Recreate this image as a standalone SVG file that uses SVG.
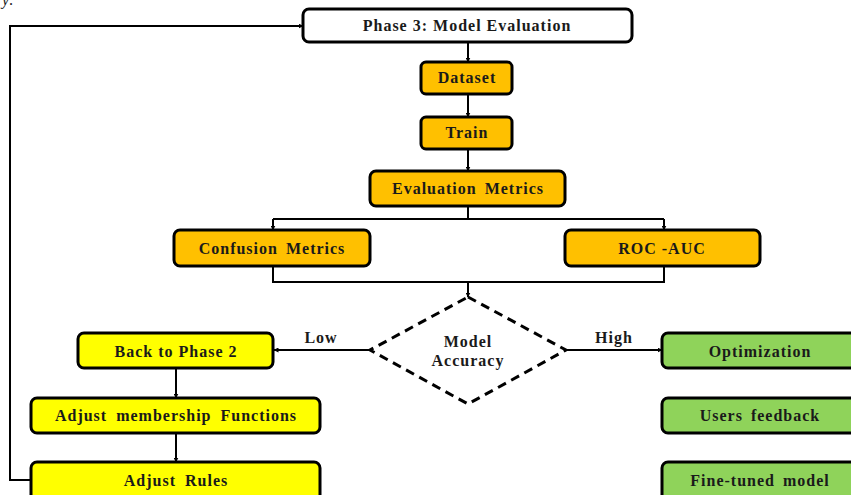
<svg xmlns="http://www.w3.org/2000/svg" width="851" height="495" viewBox="0 0 851 495">
<defs>
<marker id="ah" viewBox="0 0 10 10" refX="9" refY="5" markerWidth="5" markerHeight="5" orient="auto" markerUnits="userSpaceOnUse">
<path d="M0,0 L10,5 L0,10 z" fill="#000"/>
</marker>
<style>
.box{stroke:#000;stroke-width:3}
.w{fill:#fff}.o{fill:#FFC000}.y{fill:#FFFF00}.g{fill:#8FD35A}
text{font-family:"Liberation Serif","Times New Roman",serif;font-weight:bold;font-size:16px;letter-spacing:1px;fill:#1a1a1a;text-anchor:middle}
.c{fill:none;stroke:#000;stroke-width:2}
.a{marker-end:url(#ah)}
</style>
</defs>
<rect width="851" height="495" fill="#fff"/>
<text x="2" y="5" style="font-style:italic;font-weight:normal;text-anchor:start;font-size:16px;letter-spacing:0">y:</text>
<g id="connectors">
<path class="c a" d="M468,42 V62"/>
<path class="c a" d="M468,94 V117"/>
<path class="c a" d="M468,149 V171"/>
<path class="c" d="M468,206 V219 M273,219 H664"/>
<path class="c a" d="M273,219 V230"/>
<path class="c a" d="M664,219 V230"/>
<path class="c" d="M273,266 V282 H664 V266"/>
<path class="c a" d="M468,282 V297"/>
<path class="c a" d="M370,350 H274"/>
<path class="c a" d="M566,350 H662"/>
<path class="c a" d="M176,368 V398"/>
<path class="c a" d="M176,433 V462"/>
<path class="c a" d="M31,480 H10 V26 H303"/>
<text x="321" y="343">Low</text>
<text x="614" y="343">High</text>
</g>
<g id="phase3"><rect class="box w" x="303" y="9" width="329" height="33" rx="6"/><text x="467" y="31">Phase 3: Model Evaluation</text></g>
<g id="dataset"><rect class="box o" x="421" y="62" width="91" height="32" rx="5"/><text x="467" y="83">Dataset</text></g>
<g id="train"><rect class="box o" x="421" y="117" width="91" height="32" rx="5"/><text x="467" y="138">Train</text></g>
<g id="evalmetrics"><rect class="box o" x="370" y="171" width="195" height="35" rx="6"/><text x="468" y="194" word-spacing="3">Evaluation Metrics</text></g>
<g id="confusion"><rect class="box o" x="174" y="230" width="196" height="36" rx="6"/><text x="272" y="254" word-spacing="3">Confusion Metrics</text></g>
<g id="rocauc"><rect class="box o" x="565" y="230" width="195" height="36" rx="6"/><text x="662" y="254">ROC -AUC</text></g>
<g id="accuracy"><polygon points="468,297 566,350 468,404 370,350" fill="#fff" stroke="#000" stroke-width="3" stroke-dasharray="9,6"/><text x="468" y="347">Model</text><text x="468" y="366">Accuracy</text></g>
<g id="backphase2"><rect class="box y" x="78" y="333" width="195" height="35" rx="6"/><text x="176" y="357">Back to Phase 2</text></g>
<g id="adjmf"><rect class="box y" x="31" y="398" width="289" height="35" rx="6"/><text x="176" y="421" word-spacing="4">Adjust membership Functions</text></g>
<g id="adjrules"><rect class="box y" x="31" y="462" width="289" height="40" rx="6"/><text x="176" y="486" word-spacing="4">Adjust Rules</text></g>
<g id="optimization"><rect class="box g" x="662" y="333" width="198" height="35" rx="6"/><text x="760" y="357">Optimization</text></g>
<g id="feedback"><rect class="box g" x="662" y="398" width="198" height="35" rx="6"/><text x="760" y="421" word-spacing="3">Users feedback</text></g>
<g id="finetuned"><rect class="box g" x="662" y="462" width="198" height="40" rx="6"/><text x="760" y="486" word-spacing="3">Fine-tuned model</text></g>
</svg>
